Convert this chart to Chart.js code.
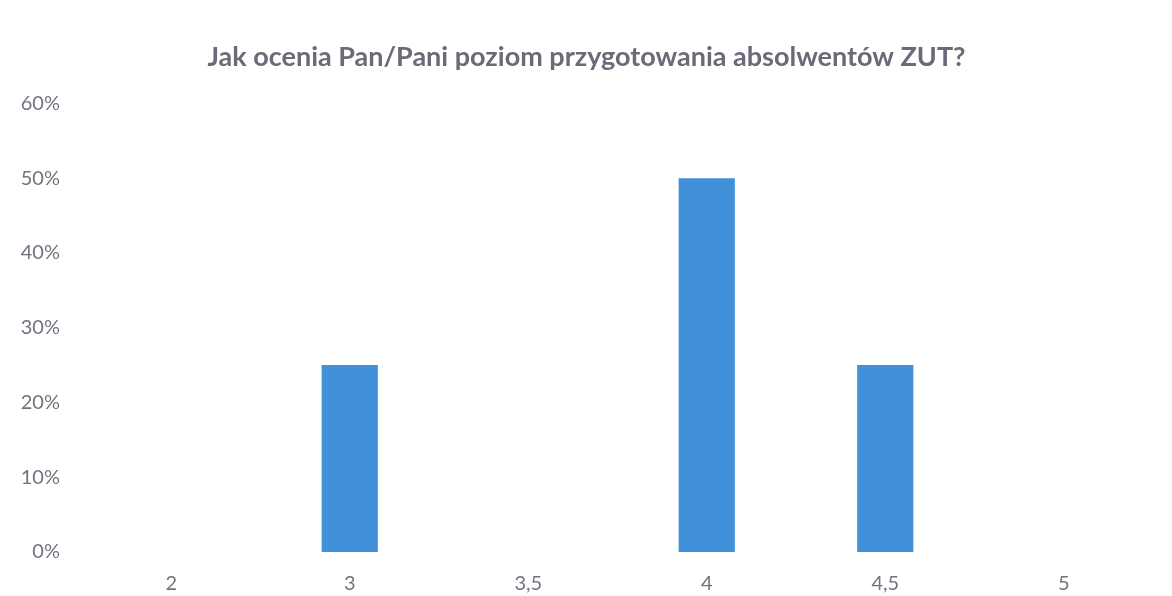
<!DOCTYPE html>
<html>
<head>
<meta charset="utf-8">
<script src="https://cdn.jsdelivr.net/npm/chart.js@4.4.1/dist/chart.umd.min.js"></script>
<style>
  html, body { margin: 0; padding: 0; background: #fff; }
  #wrap { width: 1172px; height: 596px; }
</style>
</head>
<body>
<div id="wrap"><canvas id="chart" width="1172" height="596"></canvas></div>
<script>
const titleText = 'Jak ocenia Pan/Pani poziom przygotowania absolwentów ZUT?';
const grades = ['2', '3', '3,5', '4', '4,5', '5'];
const shares = [0, 25, 0, 50, 25, 0];
const yTicks = [0, 10, 20, 30, 40, 50, 60];

const textGrey = '#737380';

new Chart(document.getElementById('chart'), {
  type: 'bar',
  data: {
    labels: grades,
    datasets: [{
      data: shares,
      backgroundColor: '#4190da',
      barPercentage: 1,
      categoryPercentage: 0.315,
    }],
  },
  options: {
    responsive: false,
    animation: false,
    // left padding nudges the title centre towards the original
    layout: { padding: { left: 20, right: 19, top: 0, bottom: 0 } },
    plugins: {
      legend: { display: false },
      tooltip: { enabled: false },
      title: {
        display: true,
        text: titleText,
        color: '#6a6a78',
        font: { family: 'Lato', size: 27, weight: 'bold', lineHeight: 1.2 },
        padding: { top: 41, bottom: 30 },
      },
    },
    scales: {
      x: {
        grid: { display: false, drawTicks: false },
        border: { display: false },
        ticks: {
          color: textGrey,
          padding: 20,
          font: { family: 'Lato', size: 20 },
        },
        afterFit: (axis) => { axis.height = 44; },
      },
      y: {
        min: 0,
        max: 60,
        grid: { display: false, drawTicks: false },
        border: { display: false },
        afterBuildTicks: (axis) => { axis.ticks = yTicks.map((v) => ({ value: v })); },
        ticks: {
          color: textGrey,
          padding: 22,
          font: { family: 'Lato', size: 20 },
          callback: (v) => v + '%',
        },
        afterFit: (axis) => { axis.width = 62; },
      },
    },
  },
});
</script>
</body>
</html>
